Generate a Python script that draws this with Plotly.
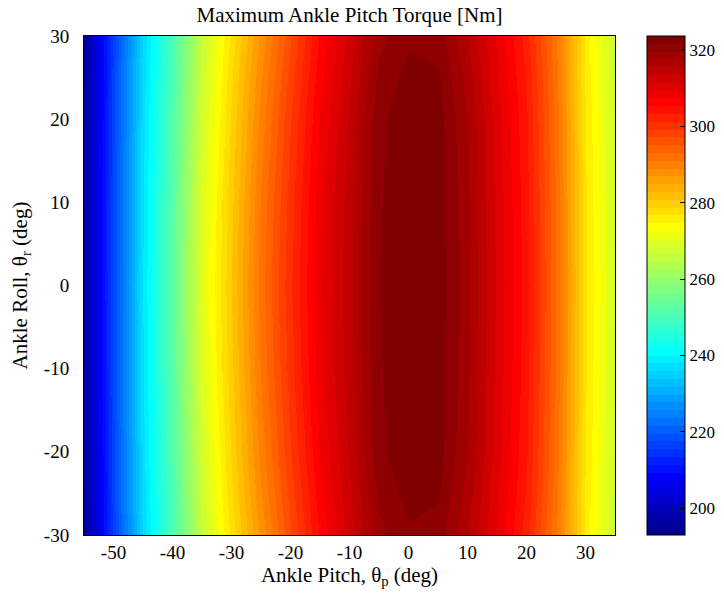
import plotly.graph_objects as go

# ---- data ----
pitch = [-55, -50, -45, -40, -35, -30, -25, -20, -15, -10, -5, 0, 5, 10, 15, 20, 25, 30, 35]
roll = [-30, -25, -20, -10, 0, 10, 20, 25, 30]

torque_r30 = [195.0, 216.6, 236.3, 250.6, 266.5, 277.5, 287.5, 297.0, 305.6, 312.4, 319.0, 321.2, 320.8, 315.5, 309.0, 302.0, 291.2, 275.7, 266.6]
torque_r25 = [195.3, 217.0, 236.8, 251.2, 267.3, 278.6, 288.8, 298.2, 306.6, 313.2, 320.2, 322.4, 321.9, 316.5, 309.7, 302.8, 291.8, 276.0, 267.0]
torque_r20 = [195.6, 217.3, 237.2, 251.8, 268.0, 279.3, 289.8, 299.2, 307.5, 313.9, 321.1, 323.1, 322.6, 317.4, 310.3, 303.3, 292.3, 276.4, 267.4]
torque_r10 = [195.9, 217.8, 237.8, 252.6, 269.4, 280.4, 291.3, 300.4, 308.6, 314.7, 321.4, 323.4, 322.9, 317.8, 310.8, 303.8, 292.8, 276.8, 267.8]
torque_r0 = [196.0, 218.0, 238.0, 253.0, 270.0, 281.0, 292.0, 301.0, 309.0, 315.0, 321.5, 323.6, 323.0, 318.0, 311.0, 304.0, 293.0, 277.0, 268.0]

z = [torque_r30, torque_r25, torque_r20, torque_r10, torque_r0, torque_r10, torque_r20, torque_r25, torque_r30]

cbar_ticks = [200, 220, 240, 260, 280, 300, 320]
x_ticks = [-50, -40, -30, -20, -10, 0, 10, 20, 30]
x_ticktext = ["-50", "-40", "-30", "-20", "-10", "0", "10", "20", "30"]
y_ticks = [-30, -20, -10, 0, 10, 20, 30]
y_ticktext = ["-30", "-20", "-10", "0", "10", "20", "30"]

# ---- MATLAB jet(64) stepped colorscale ----
def clip(v):
    return max(0.0, min(1.0, v))

colors = []
for i in range(1, 65):
    r = clip((i - 24) / 16) if i <= 56 else 1 - (i - 56) / 16
    g = clip((i - 8) / 16) if i <= 40 else clip(1 - (i - 40) / 16)
    b = 0.5 + i / 16 if i <= 8 else clip(1 - (i - 24) / 16) if i > 24 else 1.0
    colors.append("rgb(%d,%d,%d)" % (round(r * 255), round(g * 255), round(b * 255)))

colorscale = []
for i, c in enumerate(colors):
    colorscale.append([i / 64, c])
    colorscale.append([(i + 1) / 64, c])

font_family = "Liberation Serif, Times New Roman, serif"

fig = go.Figure(
    go.Heatmap(
        x=pitch,
        y=roll,
        z=z,
        zsmooth="best",
        colorscale=colorscale,
        zmin=193,
        zmax=323.65,
        colorbar=dict(
            xref="container",
            x=647 / 724,
            xanchor="left",
            xpad=0,
            y=0.5,
            yanchor="middle",
            len=1.0,
            ypad=0,
            thickness=38,
            outlinewidth=1,
            outlinecolor="black",
            tickvals=cbar_ticks,
            ticks="inside",
            ticklen=5,
            tickcolor="black",
            tickfont=dict(family=font_family, size=17, color="black"),
        ),
    )
)

fig.update_layout(
    width=724,
    height=600,
    margin=dict(l=84, r=109, t=36, b=65),
    paper_bgcolor="white",
    plot_bgcolor="white",
    font=dict(family=font_family, color="black"),
    title=dict(
        text="Maximum Ankle Pitch Torque [Nm]",
        x=0.4828,
        xanchor="center",
        y=0.975,
        yanchor="middle",
        font=dict(size=21, family=font_family, color="black"),
    ),
    xaxis=dict(
        range=[-55, 35],
        tickvals=x_ticks,
        ticktext=x_ticktext,
        ticks="",
        showline=True,
        linecolor="black",
        linewidth=1,
        mirror=True,
        showgrid=False,
        zeroline=False,
        tickfont=dict(size=19, family=font_family),
        title=dict(text="Ankle Pitch, θ<sub>p</sub> (deg)", font=dict(size=21), standoff=4),
    ),
    yaxis=dict(
        range=[-30, 30],
        tickvals=y_ticks,
        ticktext=y_ticktext,
        ticks="",
        showline=True,
        linecolor="black",
        linewidth=1,
        mirror=True,
        showgrid=False,
        zeroline=False,
        ticklabelstandoff=10,
        tickfont=dict(size=19, family=font_family),
        title=dict(text="Ankle Roll, θ<sub>r</sub> (deg)", font=dict(size=21), standoff=10),
    ),
)

fig.write_html("out.html")
